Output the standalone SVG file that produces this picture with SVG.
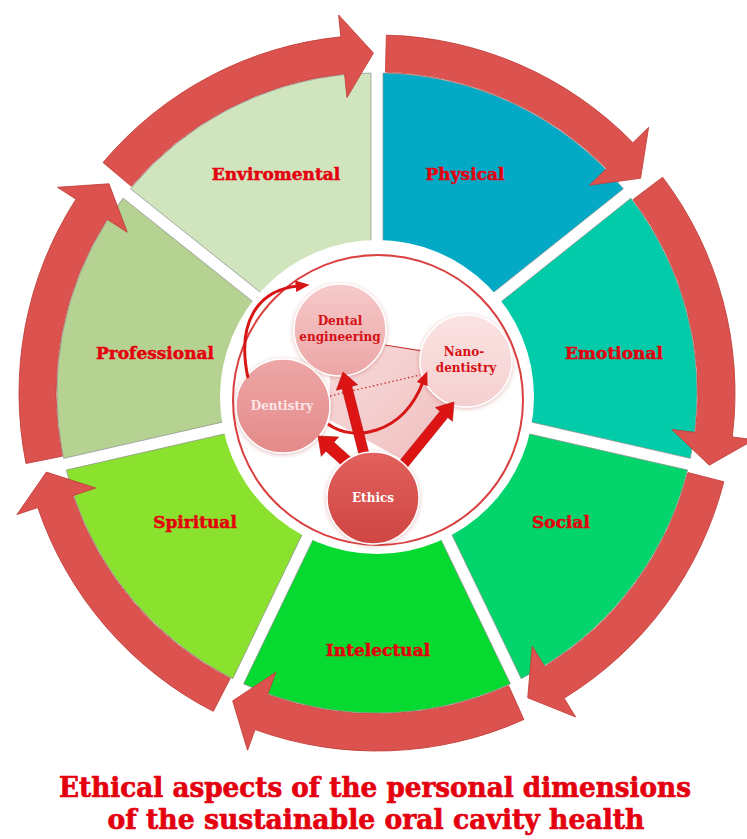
<svg xmlns="http://www.w3.org/2000/svg" width="747" height="839" viewBox="0 0 747 839">
<defs>
<style>
.lbl{font-family:"DejaVu Serif","Liberation Serif",serif;font-weight:bold;font-size:17px;fill:#e4000f;stroke:#e4000f;stroke-width:0.5;text-anchor:middle}
.seg{stroke:#8c948c;stroke-width:0.7}
.band{fill:#db524e;stroke:#c23e3a;stroke-width:0.8}
.nlbl{font-family:"DejaVu Serif","Liberation Serif",serif;font-weight:bold;font-size:12px;text-anchor:middle}
.title{font-family:"DejaVu Serif","Liberation Serif",serif;font-weight:bold;font-size:28px;fill:#e4000f;stroke:#e4000f;stroke-width:0.7;text-anchor:middle}
.thick{fill:#dc1414;stroke:#b50f0f;stroke-width:0.6}
.curve{fill:none;stroke:#d81616;stroke-width:3}
.node{stroke:#ffffff;stroke-width:1.5;filter:url(#sh)}
</style>
<linearGradient id="gDE" x1="0" y1="0" x2="0" y2="1"><stop offset="0" stop-color="#f6caca"/><stop offset="1" stop-color="#eca5a5"/></linearGradient>
<linearGradient id="gNA" x1="0" y1="0" x2="0" y2="1"><stop offset="0" stop-color="#fbe3e3"/><stop offset="1" stop-color="#f5cfcf"/></linearGradient>
<linearGradient id="gDN" x1="0" y1="0" x2="0" y2="1"><stop offset="0" stop-color="#eea6a6"/><stop offset="1" stop-color="#e48a8a"/></linearGradient>
<linearGradient id="gET" x1="0" y1="0" x2="0" y2="1"><stop offset="0" stop-color="#e2605d"/><stop offset="1" stop-color="#cf4643"/></linearGradient>
<linearGradient id="gSH" x1="0" y1="0" x2="1" y2="1"><stop offset="0" stop-color="#f2bcbc" stop-opacity="0.55"/><stop offset="1" stop-color="#e79a9a" stop-opacity="0.65"/></linearGradient>
<filter id="sh" x="-20%" y="-20%" width="140%" height="140%"><feGaussianBlur in="SourceAlpha" stdDeviation="2"/><feOffset dx="0" dy="1" result="b"/><feFlood flood-color="#b03030" flood-opacity="0.35"/><feComposite in2="b" operator="in"/><feMerge><feMergeNode/><feMergeNode in="SourceGraphic"/></feMerge></filter>
<marker id="ah" viewBox="0 0 12 10" refX="2" refY="5" markerWidth="14" markerHeight="12" markerUnits="userSpaceOnUse" orient="auto"><path d="M0,0 L12,5 L0,10 Z" fill="#d81616"/></marker>
<path id="wedge" d="M389.459,399 L696.94,399 A320,320 0 0 1 581.174,639.4 Z"/>
<path id="arc" d="M734.877,402.371 A358,358 0 0 1 627.350,648.908 L642.735,664.634 L591.759,656.589 L584.693,605.304 L601.476,622.459 A321,321 0 0 0 697.890,401.403 Z"/>
</defs>
<rect width="747" height="839" fill="#ffffff"/>

<g id="seg-physical"><use href="#wedge" class="seg" fill="#03a9c5" transform="rotate(-90 377 393)"/><text class="lbl" x="465" y="180">Physical</text></g>
<g id="seg-emotional"><use href="#wedge" class="seg" fill="#02cba9" transform="rotate(-38.5714 377 393)"/><text class="lbl" x="614" y="359">Emotional</text></g>
<g id="seg-social"><use href="#wedge" class="seg" fill="#03d46c" transform="rotate(12.8571 377 393)"/><text class="lbl" x="561" y="528">Social</text></g>
<g id="seg-intelectual"><use href="#wedge" class="seg" fill="#06d92f" transform="rotate(64.2857 377 393)"/><text class="lbl" x="378" y="656">Intelectual</text></g>
<g id="seg-spiritual"><use href="#wedge" class="seg" fill="#8ae22e" transform="rotate(115.7143 377 393)"/><text class="lbl" x="195" y="528">Spiritual</text></g>
<g id="seg-professional"><use href="#wedge" class="seg" fill="#b6d292" transform="rotate(167.1429 377 393)"/><text class="lbl" x="155" y="359">Professional</text></g>
<g id="seg-enviromental"><use href="#wedge" class="seg" fill="#d0e4bd" transform="rotate(218.5714 377 393)"/><text class="lbl" x="276" y="180">Enviromental</text></g>

<g id="cycle-arrows">
<use href="#arc" class="band" transform="rotate(-90 377 393)"/>
<use href="#arc" class="band" transform="rotate(-38.5714 377 393)"/>
<use href="#arc" class="band" transform="rotate(12.8571 377 393)"/>
<use href="#arc" class="band" transform="rotate(64.2857 377 393)"/>
<use href="#arc" class="band" transform="rotate(115.7143 377 393)"/>
<use href="#arc" class="band" transform="rotate(167.1429 377 393)"/>
<use href="#arc" class="band" transform="rotate(218.5714 377 393)"/>
</g>

<g id="hub">
<circle cx="377" cy="397" r="157" fill="#ffffff"/>
<circle cx="378" cy="400" r="145" fill="#ffffff" stroke="#d9403f" stroke-width="2"/>
<path d="M330,373 L385,345 L425,350 L452,403 L407,462 L330,420 Z" fill="url(#gSH)"/>
</g>

<g id="connectors">
<line x1="385" y1="345" x2="422" y2="351" stroke="#c83030" stroke-width="1"/>
<line x1="330" y1="396" x2="420" y2="375" stroke="#c83030" stroke-width="1.3" stroke-dasharray="1.5 2.5"/>
</g>

<g id="node-dental-engineering"><circle class="node" cx="340" cy="330" r="46" fill="url(#gDE)"/><text class="nlbl" x="340" y="325" fill="#d50f14">Dental</text><text class="nlbl" x="340" y="341" fill="#d50f14">engineering</text></g>
<g id="node-nanodentistry"><circle class="node" cx="466" cy="361" r="46" fill="url(#gNA)"/><text class="nlbl" x="464" y="356" fill="#d50f14">Nano-</text><text class="nlbl" x="466" y="372" fill="#d50f14">dentistry</text></g>
<g id="node-dentistry"><circle class="node" cx="283" cy="406" r="47" fill="url(#gDN)"/><text class="nlbl" x="282" y="410" fill="#fbe6e6">Dentistry</text></g>

<g id="connectors-arrows">
<path class="curve" d="M248,378 C236,322 258,290 298,286" marker-end="url(#ah)"/>
<path class="curve" d="M328,424 C352,442 402,436 423,382" marker-end="url(#ah)"/>
<path class="thick" d="M370.84,460.76 L351.8,386.26 L357.62,384.78 L343,372 L336.3,390.22 L342.12,388.74 L361.16,463.24 Z"/>
<path class="thick" d="M360,465.53 L333.92,442.2 L338.59,436.98 L318,436 L321.25,456.36 L325.92,451.14 L352,474.47 Z"/>
<path class="thick" d="M405.88,469.15 L447.8,417.56 L452.46,421.34 L454,402 L435.38,407.48 L440.04,411.26 L398.12,462.85 Z"/>
</g>

<g id="node-ethics"><circle class="node" cx="373" cy="498" r="46" fill="url(#gET)"/><text class="nlbl" x="373" y="502" fill="#ffffff">Ethics</text></g>

<g id="title">
<text class="title" x="375" y="797" textLength="632" lengthAdjust="spacingAndGlyphs">Ethical aspects of the personal dimensions</text>
<text class="title" x="376" y="829" textLength="537" lengthAdjust="spacingAndGlyphs">of the sustainable oral cavity health</text>
</g>
</svg>
